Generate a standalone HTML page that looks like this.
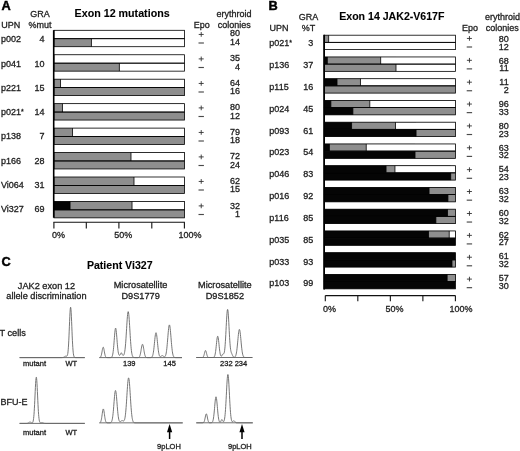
<!DOCTYPE html>
<html><head><meta charset="utf-8"><style>
html,body{margin:0;padding:0;background:#fff;}
svg{display:block;will-change:transform;}
text{font-family:"Liberation Sans", sans-serif;}
</style></head><body>
<svg width="520" height="451" viewBox="0 0 520 451">
<rect width="520" height="451" fill="#fff"/>
<text transform="translate(1.40,10.35) scale(1.0,1.02)" font-size="12.8" font-weight="bold" fill="#000" stroke-width="0.45" stroke="#000">A</text>
<text transform="translate(30.20,16.70) scale(1.0,1.02)" font-size="9" fill="#1e1e1e" stroke="#1e1e1e" stroke-width="0.3">GRA</text>
<text transform="translate(1.20,27.70) scale(1.0,1.02)" font-size="9" fill="#1e1e1e" stroke="#1e1e1e" stroke-width="0.3">UPN</text>
<text transform="translate(28.60,27.70) scale(1.0,1.02)" font-size="9" fill="#1e1e1e" stroke="#1e1e1e" stroke-width="0.3">%mut</text>
<text transform="translate(74.60,16.60) scale(1.0,1.02)" font-size="10.7" font-weight="bold" fill="#000" stroke="#000" stroke-width="0.1">Exon 12 mutations</text>
<text transform="translate(193.70,27.70) scale(1.0,1.02)" font-size="9" fill="#1e1e1e" stroke="#1e1e1e" stroke-width="0.3">Epo</text>
<text transform="translate(234.00,17.00) scale(1.0,1.02)" font-size="9" text-anchor="middle" fill="#1e1e1e" stroke="#1e1e1e" stroke-width="0.3">erythroid</text>
<text transform="translate(234.20,27.70) scale(1.0,1.02)" font-size="9" text-anchor="middle" fill="#1e1e1e" stroke="#1e1e1e" stroke-width="0.3">colonies</text>
<rect x="54.00" y="30.30" width="130.50" height="16.40" fill="#fff"/>
<rect x="54.00" y="30.30" width="37.45" height="16.40" fill="#8e8e8e"/>
<rect x="54.00" y="30.30" width="130.50" height="8.40" fill="#fff"/>
<rect x="54.00" y="30.30" width="130.50" height="8.40" fill="none" stroke="#000" stroke-width="0.8"/>
<rect x="54.00" y="38.70" width="130.50" height="8.00" fill="none" stroke="#000" stroke-width="0.8"/>
<line x1="91.45" y1="38.70" x2="91.45" y2="46.70" stroke="#000" stroke-width="0.8"/>
<text transform="translate(0.90,42.30) scale(1.0,1.02)" font-size="9" fill="#1e1e1e" stroke="#1e1e1e" stroke-width="0.3">p002</text>
<text transform="translate(44.40,42.30) scale(1.0,1.02)" font-size="9" text-anchor="end" fill="#1e1e1e" stroke="#1e1e1e" stroke-width="0.3">4</text>
<rect x="198.70" y="33.95" width="5.00" height="0.90" fill="#333"/>
<rect x="200.75" y="32.05" width="0.90" height="4.70" fill="#333"/>
<rect x="198.50" y="42.42" width="5.40" height="1.15" fill="#4a4a4a"/>
<text transform="translate(240.00,36.35) scale(1.0,1.02)" font-size="9" text-anchor="end" fill="#1e1e1e" stroke="#1e1e1e" stroke-width="0.3">80</text>
<text transform="translate(240.00,45.20) scale(1.0,1.02)" font-size="9" text-anchor="end" fill="#1e1e1e" stroke="#1e1e1e" stroke-width="0.3">14</text>
<rect x="54.00" y="54.75" width="130.50" height="16.40" fill="#fff"/>
<rect x="54.00" y="54.75" width="65.38" height="16.40" fill="#8e8e8e"/>
<rect x="54.00" y="54.75" width="130.50" height="8.40" fill="#fff"/>
<rect x="54.00" y="54.75" width="130.50" height="8.40" fill="none" stroke="#000" stroke-width="0.8"/>
<rect x="54.00" y="63.15" width="130.50" height="8.00" fill="none" stroke="#000" stroke-width="0.8"/>
<line x1="119.38" y1="63.15" x2="119.38" y2="71.15" stroke="#000" stroke-width="0.8"/>
<text transform="translate(0.90,66.56) scale(1.0,1.02)" font-size="9" fill="#1e1e1e" stroke="#1e1e1e" stroke-width="0.3">p041</text>
<text transform="translate(44.40,66.56) scale(1.0,1.02)" font-size="9" text-anchor="end" fill="#1e1e1e" stroke="#1e1e1e" stroke-width="0.3">10</text>
<rect x="198.70" y="58.45" width="5.00" height="0.90" fill="#333"/>
<rect x="200.75" y="56.55" width="0.90" height="4.70" fill="#333"/>
<rect x="198.50" y="66.92" width="5.40" height="1.15" fill="#4a4a4a"/>
<text transform="translate(240.00,60.96) scale(1.0,1.02)" font-size="9" text-anchor="end" fill="#1e1e1e" stroke="#1e1e1e" stroke-width="0.3">35</text>
<text transform="translate(240.00,69.72) scale(1.0,1.02)" font-size="9" text-anchor="end" fill="#1e1e1e" stroke="#1e1e1e" stroke-width="0.3">4</text>
<rect x="54.00" y="79.20" width="130.50" height="16.40" fill="#fff"/>
<rect x="54.00" y="79.20" width="130.50" height="16.40" fill="#8e8e8e"/>
<rect x="54.00" y="79.20" width="130.50" height="8.40" fill="#fff"/>
<rect x="54.00" y="79.20" width="6.53" height="8.40" fill="#8e8e8e"/>
<rect x="54.00" y="79.20" width="130.50" height="8.40" fill="none" stroke="#000" stroke-width="0.8"/>
<line x1="60.52" y1="79.20" x2="60.52" y2="87.60" stroke="#000" stroke-width="0.8"/>
<rect x="54.00" y="87.60" width="130.50" height="8.00" fill="none" stroke="#000" stroke-width="0.8"/>
<text transform="translate(0.90,90.82) scale(1.0,1.02)" font-size="9" fill="#1e1e1e" stroke="#1e1e1e" stroke-width="0.3">p221</text>
<text transform="translate(44.40,90.82) scale(1.0,1.02)" font-size="9" text-anchor="end" fill="#1e1e1e" stroke="#1e1e1e" stroke-width="0.3">15</text>
<rect x="198.70" y="82.95" width="5.00" height="0.90" fill="#333"/>
<rect x="200.75" y="81.05" width="0.90" height="4.70" fill="#333"/>
<rect x="198.50" y="91.42" width="5.40" height="1.15" fill="#4a4a4a"/>
<text transform="translate(240.00,85.57) scale(1.0,1.02)" font-size="9" text-anchor="end" fill="#1e1e1e" stroke="#1e1e1e" stroke-width="0.3">64</text>
<text transform="translate(240.00,94.24) scale(1.0,1.02)" font-size="9" text-anchor="end" fill="#1e1e1e" stroke="#1e1e1e" stroke-width="0.3">16</text>
<rect x="54.00" y="103.65" width="130.50" height="16.40" fill="#fff"/>
<rect x="54.00" y="103.65" width="130.50" height="16.40" fill="#8e8e8e"/>
<rect x="54.00" y="103.65" width="130.50" height="8.40" fill="#fff"/>
<rect x="54.00" y="103.65" width="8.48" height="8.40" fill="#8e8e8e"/>
<rect x="54.00" y="103.65" width="130.50" height="8.40" fill="none" stroke="#000" stroke-width="0.8"/>
<line x1="62.48" y1="103.65" x2="62.48" y2="112.05" stroke="#000" stroke-width="0.8"/>
<rect x="54.00" y="112.05" width="130.50" height="8.00" fill="none" stroke="#000" stroke-width="0.8"/>
<text transform="translate(0.90,115.08) scale(1.0,1.02)" font-size="9" fill="#1e1e1e" stroke="#1e1e1e" stroke-width="0.3">p021<tspan font-size="7" dy="-1.4">*</tspan></text>
<text transform="translate(44.40,115.08) scale(1.0,1.02)" font-size="9" text-anchor="end" fill="#1e1e1e" stroke="#1e1e1e" stroke-width="0.3">14</text>
<rect x="198.70" y="107.45" width="5.00" height="0.90" fill="#333"/>
<rect x="200.75" y="105.55" width="0.90" height="4.70" fill="#333"/>
<rect x="198.50" y="115.92" width="5.40" height="1.15" fill="#4a4a4a"/>
<text transform="translate(240.00,110.18) scale(1.0,1.02)" font-size="9" text-anchor="end" fill="#1e1e1e" stroke="#1e1e1e" stroke-width="0.3">80</text>
<text transform="translate(240.00,118.76) scale(1.0,1.02)" font-size="9" text-anchor="end" fill="#1e1e1e" stroke="#1e1e1e" stroke-width="0.3">12</text>
<rect x="54.00" y="128.10" width="130.50" height="16.40" fill="#fff"/>
<rect x="54.00" y="128.10" width="130.50" height="16.40" fill="#8e8e8e"/>
<rect x="54.00" y="128.10" width="130.50" height="8.40" fill="#fff"/>
<rect x="54.00" y="128.10" width="18.53" height="8.40" fill="#8e8e8e"/>
<rect x="54.00" y="128.10" width="130.50" height="8.40" fill="none" stroke="#000" stroke-width="0.8"/>
<line x1="72.53" y1="128.10" x2="72.53" y2="136.50" stroke="#000" stroke-width="0.8"/>
<rect x="54.00" y="136.50" width="130.50" height="8.00" fill="none" stroke="#000" stroke-width="0.8"/>
<text transform="translate(0.90,139.34) scale(1.0,1.02)" font-size="9" fill="#1e1e1e" stroke="#1e1e1e" stroke-width="0.3">p138</text>
<text transform="translate(44.40,139.34) scale(1.0,1.02)" font-size="9" text-anchor="end" fill="#1e1e1e" stroke="#1e1e1e" stroke-width="0.3">7</text>
<rect x="198.70" y="131.95" width="5.00" height="0.90" fill="#333"/>
<rect x="200.75" y="130.05" width="0.90" height="4.70" fill="#333"/>
<rect x="198.50" y="140.43" width="5.40" height="1.15" fill="#4a4a4a"/>
<text transform="translate(240.00,134.79) scale(1.0,1.02)" font-size="9" text-anchor="end" fill="#1e1e1e" stroke="#1e1e1e" stroke-width="0.3">79</text>
<text transform="translate(240.00,143.28) scale(1.0,1.02)" font-size="9" text-anchor="end" fill="#1e1e1e" stroke="#1e1e1e" stroke-width="0.3">18</text>
<rect x="54.00" y="152.55" width="130.50" height="16.40" fill="#fff"/>
<rect x="54.00" y="152.55" width="130.50" height="16.40" fill="#8e8e8e"/>
<rect x="54.00" y="152.55" width="130.50" height="8.40" fill="#fff"/>
<rect x="54.00" y="152.55" width="76.99" height="8.40" fill="#8e8e8e"/>
<rect x="54.00" y="152.55" width="130.50" height="8.40" fill="none" stroke="#000" stroke-width="0.8"/>
<line x1="131.00" y1="152.55" x2="131.00" y2="160.95" stroke="#000" stroke-width="0.8"/>
<rect x="54.00" y="160.95" width="130.50" height="8.00" fill="none" stroke="#000" stroke-width="0.8"/>
<text transform="translate(0.90,163.60) scale(1.0,1.02)" font-size="9" fill="#1e1e1e" stroke="#1e1e1e" stroke-width="0.3">p166</text>
<text transform="translate(44.40,163.60) scale(1.0,1.02)" font-size="9" text-anchor="end" fill="#1e1e1e" stroke="#1e1e1e" stroke-width="0.3">28</text>
<rect x="198.70" y="156.45" width="5.00" height="0.90" fill="#333"/>
<rect x="200.75" y="154.55" width="0.90" height="4.70" fill="#333"/>
<rect x="198.50" y="164.93" width="5.40" height="1.15" fill="#4a4a4a"/>
<text transform="translate(240.00,159.40) scale(1.0,1.02)" font-size="9" text-anchor="end" fill="#1e1e1e" stroke="#1e1e1e" stroke-width="0.3">72</text>
<text transform="translate(240.00,167.80) scale(1.0,1.02)" font-size="9" text-anchor="end" fill="#1e1e1e" stroke="#1e1e1e" stroke-width="0.3">24</text>
<rect x="54.00" y="177.00" width="130.50" height="16.40" fill="#fff"/>
<rect x="54.00" y="177.00" width="130.50" height="16.40" fill="#8e8e8e"/>
<rect x="54.00" y="177.00" width="130.50" height="8.40" fill="#fff"/>
<rect x="54.00" y="177.00" width="80.00" height="8.40" fill="#8e8e8e"/>
<rect x="54.00" y="177.00" width="130.50" height="8.40" fill="none" stroke="#000" stroke-width="0.8"/>
<line x1="134.00" y1="177.00" x2="134.00" y2="185.40" stroke="#000" stroke-width="0.8"/>
<rect x="54.00" y="185.40" width="130.50" height="8.00" fill="none" stroke="#000" stroke-width="0.8"/>
<text transform="translate(0.90,187.86) scale(1.0,1.02)" font-size="9" fill="#1e1e1e" stroke="#1e1e1e" stroke-width="0.3">Vi064</text>
<text transform="translate(44.40,187.86) scale(1.0,1.02)" font-size="9" text-anchor="end" fill="#1e1e1e" stroke="#1e1e1e" stroke-width="0.3">31</text>
<rect x="198.70" y="180.95" width="5.00" height="0.90" fill="#333"/>
<rect x="200.75" y="179.05" width="0.90" height="4.70" fill="#333"/>
<rect x="198.50" y="189.43" width="5.40" height="1.15" fill="#4a4a4a"/>
<text transform="translate(240.00,184.01) scale(1.0,1.02)" font-size="9" text-anchor="end" fill="#1e1e1e" stroke="#1e1e1e" stroke-width="0.3">62</text>
<text transform="translate(240.00,192.32) scale(1.0,1.02)" font-size="9" text-anchor="end" fill="#1e1e1e" stroke="#1e1e1e" stroke-width="0.3">15</text>
<rect x="54.00" y="201.45" width="130.50" height="16.40" fill="#fff"/>
<rect x="54.00" y="201.45" width="130.50" height="16.40" fill="#8e8e8e"/>
<rect x="54.00" y="201.45" width="130.50" height="8.40" fill="#fff"/>
<rect x="54.00" y="201.45" width="78.04" height="8.40" fill="#8e8e8e"/>
<rect x="54.00" y="201.45" width="16.05" height="8.40" fill="#050505"/>
<rect x="54.00" y="201.45" width="130.50" height="8.40" fill="none" stroke="#000" stroke-width="0.8"/>
<line x1="70.05" y1="201.45" x2="70.05" y2="209.85" stroke="#000" stroke-width="0.8"/>
<line x1="132.04" y1="201.45" x2="132.04" y2="209.85" stroke="#000" stroke-width="0.8"/>
<rect x="54.00" y="209.85" width="130.50" height="8.00" fill="none" stroke="#000" stroke-width="0.8"/>
<text transform="translate(0.90,212.12) scale(1.0,1.02)" font-size="9" fill="#1e1e1e" stroke="#1e1e1e" stroke-width="0.3">Vi327</text>
<text transform="translate(44.40,212.12) scale(1.0,1.02)" font-size="9" text-anchor="end" fill="#1e1e1e" stroke="#1e1e1e" stroke-width="0.3">69</text>
<rect x="198.70" y="205.45" width="5.00" height="0.90" fill="#333"/>
<rect x="200.75" y="203.55" width="0.90" height="4.70" fill="#333"/>
<rect x="198.50" y="213.93" width="5.40" height="1.15" fill="#4a4a4a"/>
<text transform="translate(240.00,208.62) scale(1.0,1.02)" font-size="9" text-anchor="end" fill="#1e1e1e" stroke="#1e1e1e" stroke-width="0.3">32</text>
<text transform="translate(240.00,216.84) scale(1.0,1.02)" font-size="9" text-anchor="end" fill="#1e1e1e" stroke="#1e1e1e" stroke-width="0.3">1</text>
<line x1="53.70" y1="30.20" x2="53.70" y2="217.70" stroke="#000" stroke-width="1.6"/>
<line x1="53.40" y1="222.20" x2="184.90" y2="222.20" stroke="#111" stroke-width="1.1"/>
<line x1="53.90" y1="222.20" x2="53.90" y2="228.60" stroke="#111" stroke-width="1.1"/>
<line x1="86.30" y1="222.20" x2="86.30" y2="228.60" stroke="#111" stroke-width="1.1"/>
<line x1="118.90" y1="222.20" x2="118.90" y2="228.60" stroke="#111" stroke-width="1.1"/>
<line x1="151.80" y1="222.20" x2="151.80" y2="228.60" stroke="#111" stroke-width="1.1"/>
<line x1="184.40" y1="222.20" x2="184.40" y2="228.60" stroke="#111" stroke-width="1.1"/>
<text transform="translate(51.90,238.20) scale(1.0,1.02)" font-size="9" fill="#1e1e1e" stroke="#1e1e1e" stroke-width="0.3">0%</text>
<text transform="translate(114.20,238.20) scale(1.0,1.02)" font-size="9" fill="#1e1e1e" stroke="#1e1e1e" stroke-width="0.3">50%</text>
<text transform="translate(178.50,238.20) scale(1.0,1.02)" font-size="9" fill="#1e1e1e" stroke="#1e1e1e" stroke-width="0.3">100%</text>
<text transform="translate(268.40,10.00) scale(1.0,1.02)" font-size="12.8" font-weight="bold" fill="#000" stroke-width="0.45" stroke="#000">B</text>
<text transform="translate(298.80,20.30) scale(1.0,1.02)" font-size="9" fill="#1e1e1e" stroke="#1e1e1e" stroke-width="0.3">GRA</text>
<text transform="translate(269.50,30.80) scale(1.0,1.02)" font-size="9" fill="#1e1e1e" stroke="#1e1e1e" stroke-width="0.3">UPN</text>
<text transform="translate(301.80,30.80) scale(1.0,1.02)" font-size="9" fill="#1e1e1e" stroke="#1e1e1e" stroke-width="0.3">%T</text>
<text transform="translate(339.20,19.60) scale(1.0,1.02)" font-size="10.6" font-weight="bold" fill="#000" stroke="#000" stroke-width="0.1">Exon 14 JAK2-V617F</text>
<text transform="translate(462.10,30.60) scale(1.0,1.02)" font-size="9" fill="#1e1e1e" stroke="#1e1e1e" stroke-width="0.3">Epo</text>
<text transform="translate(502.50,20.20) scale(1.0,1.02)" font-size="9" text-anchor="middle" fill="#1e1e1e" stroke="#1e1e1e" stroke-width="0.3">erythroid</text>
<text transform="translate(502.30,30.60) scale(1.0,1.02)" font-size="9" text-anchor="middle" fill="#1e1e1e" stroke="#1e1e1e" stroke-width="0.3">colonies</text>
<rect x="324.30" y="35.20" width="131.10" height="14.40" fill="#fff"/>
<rect x="324.30" y="35.20" width="131.10" height="7.15" fill="#fff"/>
<rect x="324.30" y="35.20" width="4.33" height="7.15" fill="#8e8e8e"/>
<rect x="324.30" y="35.20" width="131.10" height="7.15" fill="none" stroke="#000" stroke-width="0.8"/>
<line x1="328.63" y1="35.20" x2="328.63" y2="42.35" stroke="#000" stroke-width="0.8"/>
<rect x="324.30" y="42.35" width="131.10" height="7.25" fill="none" stroke="#000" stroke-width="0.8"/>
<text transform="translate(269.30,46.30) scale(1.0,1.02)" font-size="9" fill="#1e1e1e" stroke="#1e1e1e" stroke-width="0.3">p021<tspan font-size="7" dy="-1.4">*</tspan></text>
<text transform="translate(313.20,46.30) scale(1.0,1.02)" font-size="9" text-anchor="end" fill="#1e1e1e" stroke="#1e1e1e" stroke-width="0.3">3</text>
<rect x="466.90" y="37.95" width="5.00" height="0.90" fill="#333"/>
<rect x="468.95" y="36.05" width="0.90" height="4.70" fill="#333"/>
<rect x="466.70" y="46.42" width="5.40" height="1.15" fill="#4a4a4a"/>
<text transform="translate(508.70,41.90) scale(1.0,1.02)" font-size="9" text-anchor="end" fill="#1e1e1e" stroke="#1e1e1e" stroke-width="0.3">80</text>
<text transform="translate(508.70,49.70) scale(1.0,1.02)" font-size="9" text-anchor="end" fill="#1e1e1e" stroke="#1e1e1e" stroke-width="0.3">12</text>
<rect x="324.30" y="56.95" width="131.10" height="14.40" fill="#fff"/>
<rect x="324.30" y="56.95" width="71.71" height="14.40" fill="#8e8e8e"/>
<rect x="324.30" y="56.95" width="131.10" height="7.15" fill="#fff"/>
<rect x="324.30" y="56.95" width="56.37" height="7.15" fill="#8e8e8e"/>
<rect x="324.30" y="56.95" width="3.02" height="7.15" fill="#050505"/>
<rect x="324.30" y="56.95" width="131.10" height="7.15" fill="none" stroke="#000" stroke-width="0.8"/>
<line x1="327.32" y1="56.95" x2="327.32" y2="64.10" stroke="#000" stroke-width="0.8"/>
<line x1="380.67" y1="56.95" x2="380.67" y2="64.10" stroke="#000" stroke-width="0.8"/>
<rect x="324.30" y="64.10" width="131.10" height="7.25" fill="none" stroke="#000" stroke-width="0.8"/>
<line x1="396.01" y1="64.10" x2="396.01" y2="71.35" stroke="#000" stroke-width="0.8"/>
<text transform="translate(269.30,68.12) scale(1.0,1.02)" font-size="9" fill="#1e1e1e" stroke="#1e1e1e" stroke-width="0.3">p136</text>
<text transform="translate(313.20,68.12) scale(1.0,1.02)" font-size="9" text-anchor="end" fill="#1e1e1e" stroke="#1e1e1e" stroke-width="0.3">37</text>
<rect x="466.90" y="59.83" width="5.00" height="0.90" fill="#333"/>
<rect x="468.95" y="57.93" width="0.90" height="4.70" fill="#333"/>
<rect x="466.70" y="68.30" width="5.40" height="1.15" fill="#4a4a4a"/>
<text transform="translate(508.70,63.65) scale(1.0,1.02)" font-size="9" text-anchor="end" fill="#1e1e1e" stroke="#1e1e1e" stroke-width="0.3">68</text>
<text transform="translate(508.70,71.45) scale(1.0,1.02)" font-size="9" text-anchor="end" fill="#1e1e1e" stroke="#1e1e1e" stroke-width="0.3">11</text>
<rect x="324.30" y="78.70" width="131.10" height="14.40" fill="#fff"/>
<rect x="324.30" y="78.70" width="131.10" height="14.40" fill="#8e8e8e"/>
<rect x="324.30" y="78.70" width="131.10" height="7.15" fill="#fff"/>
<rect x="324.30" y="78.70" width="36.18" height="7.15" fill="#8e8e8e"/>
<rect x="324.30" y="78.70" width="12.72" height="7.15" fill="#050505"/>
<rect x="324.30" y="78.70" width="131.10" height="7.15" fill="none" stroke="#000" stroke-width="0.8"/>
<line x1="337.02" y1="78.70" x2="337.02" y2="85.85" stroke="#000" stroke-width="0.8"/>
<line x1="360.48" y1="78.70" x2="360.48" y2="85.85" stroke="#000" stroke-width="0.8"/>
<rect x="324.30" y="85.85" width="131.10" height="7.25" fill="none" stroke="#000" stroke-width="0.8"/>
<text transform="translate(269.30,89.94) scale(1.0,1.02)" font-size="9" fill="#1e1e1e" stroke="#1e1e1e" stroke-width="0.3">p115</text>
<text transform="translate(313.20,89.94) scale(1.0,1.02)" font-size="9" text-anchor="end" fill="#1e1e1e" stroke="#1e1e1e" stroke-width="0.3">16</text>
<rect x="466.90" y="81.71" width="5.00" height="0.90" fill="#333"/>
<rect x="468.95" y="79.81" width="0.90" height="4.70" fill="#333"/>
<rect x="466.70" y="90.18" width="5.40" height="1.15" fill="#4a4a4a"/>
<text transform="translate(508.70,85.40) scale(1.0,1.02)" font-size="9" text-anchor="end" fill="#1e1e1e" stroke="#1e1e1e" stroke-width="0.3">11</text>
<text transform="translate(508.70,93.20) scale(1.0,1.02)" font-size="9" text-anchor="end" fill="#1e1e1e" stroke="#1e1e1e" stroke-width="0.3">2</text>
<rect x="324.30" y="100.45" width="131.10" height="14.40" fill="#fff"/>
<rect x="324.30" y="100.45" width="131.10" height="14.40" fill="#8e8e8e"/>
<rect x="324.30" y="100.45" width="28.58" height="14.40" fill="#050505"/>
<rect x="324.30" y="100.45" width="131.10" height="7.15" fill="#fff"/>
<rect x="324.30" y="100.45" width="45.49" height="7.15" fill="#8e8e8e"/>
<rect x="324.30" y="100.45" width="6.55" height="7.15" fill="#050505"/>
<rect x="324.30" y="100.45" width="131.10" height="7.15" fill="none" stroke="#000" stroke-width="0.8"/>
<line x1="330.86" y1="100.45" x2="330.86" y2="107.60" stroke="#000" stroke-width="0.8"/>
<line x1="369.79" y1="100.45" x2="369.79" y2="107.60" stroke="#000" stroke-width="0.8"/>
<rect x="324.30" y="107.60" width="131.10" height="7.25" fill="none" stroke="#000" stroke-width="0.8"/>
<line x1="352.88" y1="107.60" x2="352.88" y2="114.85" stroke="#000" stroke-width="0.8"/>
<text transform="translate(269.30,111.76) scale(1.0,1.02)" font-size="9" fill="#1e1e1e" stroke="#1e1e1e" stroke-width="0.3">p024</text>
<text transform="translate(313.20,111.76) scale(1.0,1.02)" font-size="9" text-anchor="end" fill="#1e1e1e" stroke="#1e1e1e" stroke-width="0.3">45</text>
<rect x="466.90" y="103.59" width="5.00" height="0.90" fill="#333"/>
<rect x="468.95" y="101.69" width="0.90" height="4.70" fill="#333"/>
<rect x="466.70" y="112.06" width="5.40" height="1.15" fill="#4a4a4a"/>
<text transform="translate(508.70,107.15) scale(1.0,1.02)" font-size="9" text-anchor="end" fill="#1e1e1e" stroke="#1e1e1e" stroke-width="0.3">96</text>
<text transform="translate(508.70,114.95) scale(1.0,1.02)" font-size="9" text-anchor="end" fill="#1e1e1e" stroke="#1e1e1e" stroke-width="0.3">33</text>
<rect x="324.30" y="122.20" width="131.10" height="14.40" fill="#fff"/>
<rect x="324.30" y="122.20" width="131.10" height="14.40" fill="#8e8e8e"/>
<rect x="324.30" y="122.20" width="91.77" height="14.40" fill="#050505"/>
<rect x="324.30" y="122.20" width="131.10" height="7.15" fill="#fff"/>
<rect x="324.30" y="122.20" width="71.19" height="7.15" fill="#8e8e8e"/>
<rect x="324.30" y="122.20" width="27.27" height="7.15" fill="#050505"/>
<rect x="324.30" y="122.20" width="131.10" height="7.15" fill="none" stroke="#000" stroke-width="0.8"/>
<line x1="351.57" y1="122.20" x2="351.57" y2="129.35" stroke="#000" stroke-width="0.8"/>
<line x1="395.49" y1="122.20" x2="395.49" y2="129.35" stroke="#000" stroke-width="0.8"/>
<rect x="324.30" y="129.35" width="131.10" height="7.25" fill="none" stroke="#000" stroke-width="0.8"/>
<line x1="416.07" y1="129.35" x2="416.07" y2="136.60" stroke="#000" stroke-width="0.8"/>
<text transform="translate(269.30,133.58) scale(1.0,1.02)" font-size="9" fill="#1e1e1e" stroke="#1e1e1e" stroke-width="0.3">p093</text>
<text transform="translate(313.20,133.58) scale(1.0,1.02)" font-size="9" text-anchor="end" fill="#1e1e1e" stroke="#1e1e1e" stroke-width="0.3">61</text>
<rect x="466.90" y="125.47" width="5.00" height="0.90" fill="#333"/>
<rect x="468.95" y="123.57" width="0.90" height="4.70" fill="#333"/>
<rect x="466.70" y="133.94" width="5.40" height="1.15" fill="#4a4a4a"/>
<text transform="translate(508.70,128.90) scale(1.0,1.02)" font-size="9" text-anchor="end" fill="#1e1e1e" stroke="#1e1e1e" stroke-width="0.3">80</text>
<text transform="translate(508.70,136.70) scale(1.0,1.02)" font-size="9" text-anchor="end" fill="#1e1e1e" stroke="#1e1e1e" stroke-width="0.3">23</text>
<rect x="324.30" y="143.95" width="131.10" height="14.40" fill="#fff"/>
<rect x="324.30" y="143.95" width="131.10" height="14.40" fill="#8e8e8e"/>
<rect x="324.30" y="143.95" width="90.72" height="14.40" fill="#050505"/>
<rect x="324.30" y="143.95" width="131.10" height="7.15" fill="#fff"/>
<rect x="324.30" y="143.95" width="41.95" height="7.15" fill="#8e8e8e"/>
<rect x="324.30" y="143.95" width="5.11" height="7.15" fill="#050505"/>
<rect x="324.30" y="143.95" width="131.10" height="7.15" fill="none" stroke="#000" stroke-width="0.8"/>
<line x1="329.41" y1="143.95" x2="329.41" y2="151.10" stroke="#000" stroke-width="0.8"/>
<line x1="366.25" y1="143.95" x2="366.25" y2="151.10" stroke="#000" stroke-width="0.8"/>
<rect x="324.30" y="151.10" width="131.10" height="7.25" fill="none" stroke="#000" stroke-width="0.8"/>
<line x1="415.02" y1="151.10" x2="415.02" y2="158.35" stroke="#000" stroke-width="0.8"/>
<text transform="translate(269.30,155.40) scale(1.0,1.02)" font-size="9" fill="#1e1e1e" stroke="#1e1e1e" stroke-width="0.3">p023</text>
<text transform="translate(313.20,155.40) scale(1.0,1.02)" font-size="9" text-anchor="end" fill="#1e1e1e" stroke="#1e1e1e" stroke-width="0.3">54</text>
<rect x="466.90" y="147.35" width="5.00" height="0.90" fill="#333"/>
<rect x="468.95" y="145.45" width="0.90" height="4.70" fill="#333"/>
<rect x="466.70" y="155.82" width="5.40" height="1.15" fill="#4a4a4a"/>
<text transform="translate(508.70,150.65) scale(1.0,1.02)" font-size="9" text-anchor="end" fill="#1e1e1e" stroke="#1e1e1e" stroke-width="0.3">63</text>
<text transform="translate(508.70,158.45) scale(1.0,1.02)" font-size="9" text-anchor="end" fill="#1e1e1e" stroke="#1e1e1e" stroke-width="0.3">32</text>
<rect x="324.30" y="165.70" width="131.10" height="14.40" fill="#fff"/>
<rect x="324.30" y="165.70" width="131.10" height="14.40" fill="#8e8e8e"/>
<rect x="324.30" y="165.70" width="126.38" height="14.40" fill="#050505"/>
<rect x="324.30" y="165.70" width="131.10" height="7.15" fill="#fff"/>
<rect x="324.30" y="165.70" width="70.66" height="7.15" fill="#8e8e8e"/>
<rect x="324.30" y="165.70" width="61.75" height="7.15" fill="#050505"/>
<rect x="324.30" y="165.70" width="131.10" height="7.15" fill="none" stroke="#000" stroke-width="0.8"/>
<line x1="386.05" y1="165.70" x2="386.05" y2="172.85" stroke="#000" stroke-width="0.8"/>
<line x1="394.96" y1="165.70" x2="394.96" y2="172.85" stroke="#000" stroke-width="0.8"/>
<rect x="324.30" y="172.85" width="131.10" height="7.25" fill="none" stroke="#000" stroke-width="0.8"/>
<line x1="450.68" y1="172.85" x2="450.68" y2="180.10" stroke="#000" stroke-width="0.8"/>
<text transform="translate(269.30,177.22) scale(1.0,1.02)" font-size="9" fill="#1e1e1e" stroke="#1e1e1e" stroke-width="0.3">p046</text>
<text transform="translate(313.20,177.22) scale(1.0,1.02)" font-size="9" text-anchor="end" fill="#1e1e1e" stroke="#1e1e1e" stroke-width="0.3">83</text>
<rect x="466.90" y="169.23" width="5.00" height="0.90" fill="#333"/>
<rect x="468.95" y="167.33" width="0.90" height="4.70" fill="#333"/>
<rect x="466.70" y="177.71" width="5.40" height="1.15" fill="#4a4a4a"/>
<text transform="translate(508.70,172.40) scale(1.0,1.02)" font-size="9" text-anchor="end" fill="#1e1e1e" stroke="#1e1e1e" stroke-width="0.3">54</text>
<text transform="translate(508.70,180.20) scale(1.0,1.02)" font-size="9" text-anchor="end" fill="#1e1e1e" stroke="#1e1e1e" stroke-width="0.3">23</text>
<rect x="324.30" y="187.45" width="131.10" height="14.40" fill="#fff"/>
<rect x="324.30" y="187.45" width="131.10" height="14.40" fill="#8e8e8e"/>
<rect x="324.30" y="187.45" width="123.63" height="14.40" fill="#050505"/>
<rect x="324.30" y="187.45" width="131.10" height="7.15" fill="#fff"/>
<rect x="324.30" y="187.45" width="131.10" height="7.15" fill="#8e8e8e"/>
<rect x="324.30" y="187.45" width="104.75" height="7.15" fill="#050505"/>
<rect x="324.30" y="187.45" width="131.10" height="7.15" fill="none" stroke="#000" stroke-width="0.8"/>
<line x1="429.05" y1="187.45" x2="429.05" y2="194.60" stroke="#000" stroke-width="0.8"/>
<rect x="324.30" y="194.60" width="131.10" height="7.25" fill="none" stroke="#000" stroke-width="0.8"/>
<line x1="447.93" y1="194.60" x2="447.93" y2="201.85" stroke="#000" stroke-width="0.8"/>
<text transform="translate(269.30,199.04) scale(1.0,1.02)" font-size="9" fill="#1e1e1e" stroke="#1e1e1e" stroke-width="0.3">p016</text>
<text transform="translate(313.20,199.04) scale(1.0,1.02)" font-size="9" text-anchor="end" fill="#1e1e1e" stroke="#1e1e1e" stroke-width="0.3">92</text>
<rect x="466.90" y="191.11" width="5.00" height="0.90" fill="#333"/>
<rect x="468.95" y="189.21" width="0.90" height="4.70" fill="#333"/>
<rect x="466.70" y="199.59" width="5.40" height="1.15" fill="#4a4a4a"/>
<text transform="translate(508.70,194.15) scale(1.0,1.02)" font-size="9" text-anchor="end" fill="#1e1e1e" stroke="#1e1e1e" stroke-width="0.3">63</text>
<text transform="translate(508.70,201.95) scale(1.0,1.02)" font-size="9" text-anchor="end" fill="#1e1e1e" stroke="#1e1e1e" stroke-width="0.3">32</text>
<rect x="324.30" y="209.20" width="131.10" height="14.40" fill="#fff"/>
<rect x="324.30" y="209.20" width="131.10" height="14.40" fill="#8e8e8e"/>
<rect x="324.30" y="209.20" width="111.57" height="14.40" fill="#050505"/>
<rect x="324.30" y="209.20" width="131.10" height="7.15" fill="#fff"/>
<rect x="324.30" y="209.20" width="131.10" height="7.15" fill="#8e8e8e"/>
<rect x="324.30" y="209.20" width="123.23" height="7.15" fill="#050505"/>
<rect x="324.30" y="209.20" width="131.10" height="7.15" fill="none" stroke="#000" stroke-width="0.8"/>
<line x1="447.53" y1="209.20" x2="447.53" y2="216.35" stroke="#000" stroke-width="0.8"/>
<rect x="324.30" y="216.35" width="131.10" height="7.25" fill="none" stroke="#000" stroke-width="0.8"/>
<line x1="435.87" y1="216.35" x2="435.87" y2="223.60" stroke="#000" stroke-width="0.8"/>
<text transform="translate(269.30,220.86) scale(1.0,1.02)" font-size="9" fill="#1e1e1e" stroke="#1e1e1e" stroke-width="0.3">p116</text>
<text transform="translate(313.20,220.86) scale(1.0,1.02)" font-size="9" text-anchor="end" fill="#1e1e1e" stroke="#1e1e1e" stroke-width="0.3">85</text>
<rect x="466.90" y="212.99" width="5.00" height="0.90" fill="#333"/>
<rect x="468.95" y="211.09" width="0.90" height="4.70" fill="#333"/>
<rect x="466.70" y="221.47" width="5.40" height="1.15" fill="#4a4a4a"/>
<text transform="translate(508.70,215.90) scale(1.0,1.02)" font-size="9" text-anchor="end" fill="#1e1e1e" stroke="#1e1e1e" stroke-width="0.3">60</text>
<text transform="translate(508.70,223.70) scale(1.0,1.02)" font-size="9" text-anchor="end" fill="#1e1e1e" stroke="#1e1e1e" stroke-width="0.3">32</text>
<rect x="324.30" y="230.95" width="131.10" height="14.40" fill="#fff"/>
<rect x="324.30" y="230.95" width="131.10" height="14.40" fill="#050505"/>
<rect x="324.30" y="230.95" width="131.10" height="7.15" fill="#fff"/>
<rect x="324.30" y="230.95" width="124.94" height="7.15" fill="#8e8e8e"/>
<rect x="324.30" y="230.95" width="104.22" height="7.15" fill="#050505"/>
<rect x="324.30" y="230.95" width="131.10" height="7.15" fill="none" stroke="#000" stroke-width="0.8"/>
<line x1="428.52" y1="230.95" x2="428.52" y2="238.10" stroke="#000" stroke-width="0.8"/>
<line x1="449.24" y1="230.95" x2="449.24" y2="238.10" stroke="#000" stroke-width="0.8"/>
<rect x="324.30" y="238.10" width="131.10" height="7.25" fill="none" stroke="#000" stroke-width="0.8"/>
<text transform="translate(269.30,242.68) scale(1.0,1.02)" font-size="9" fill="#1e1e1e" stroke="#1e1e1e" stroke-width="0.3">p035</text>
<text transform="translate(313.20,242.68) scale(1.0,1.02)" font-size="9" text-anchor="end" fill="#1e1e1e" stroke="#1e1e1e" stroke-width="0.3">85</text>
<rect x="466.90" y="234.87" width="5.00" height="0.90" fill="#333"/>
<rect x="468.95" y="232.97" width="0.90" height="4.70" fill="#333"/>
<rect x="466.70" y="243.34" width="5.40" height="1.15" fill="#4a4a4a"/>
<text transform="translate(508.70,237.65) scale(1.0,1.02)" font-size="9" text-anchor="end" fill="#1e1e1e" stroke="#1e1e1e" stroke-width="0.3">62</text>
<text transform="translate(508.70,245.45) scale(1.0,1.02)" font-size="9" text-anchor="end" fill="#1e1e1e" stroke="#1e1e1e" stroke-width="0.3">27</text>
<rect x="324.30" y="252.70" width="131.10" height="14.40" fill="#fff"/>
<rect x="324.30" y="252.70" width="131.10" height="14.40" fill="#8e8e8e"/>
<rect x="324.30" y="252.70" width="127.69" height="14.40" fill="#050505"/>
<rect x="324.30" y="252.70" width="131.10" height="7.15" fill="#fff"/>
<rect x="324.30" y="252.70" width="131.10" height="7.15" fill="#050505"/>
<rect x="324.30" y="252.70" width="131.10" height="7.15" fill="none" stroke="#000" stroke-width="0.8"/>
<rect x="324.30" y="259.85" width="131.10" height="7.25" fill="none" stroke="#000" stroke-width="0.8"/>
<line x1="451.99" y1="259.85" x2="451.99" y2="267.10" stroke="#000" stroke-width="0.8"/>
<text transform="translate(269.30,264.50) scale(1.0,1.02)" font-size="9" fill="#1e1e1e" stroke="#1e1e1e" stroke-width="0.3">p033</text>
<text transform="translate(313.20,264.50) scale(1.0,1.02)" font-size="9" text-anchor="end" fill="#1e1e1e" stroke="#1e1e1e" stroke-width="0.3">93</text>
<rect x="466.90" y="256.75" width="5.00" height="0.90" fill="#333"/>
<rect x="468.95" y="254.85" width="0.90" height="4.70" fill="#333"/>
<rect x="466.70" y="265.22" width="5.40" height="1.15" fill="#4a4a4a"/>
<text transform="translate(508.70,259.40) scale(1.0,1.02)" font-size="9" text-anchor="end" fill="#1e1e1e" stroke="#1e1e1e" stroke-width="0.3">61</text>
<text transform="translate(508.70,267.20) scale(1.0,1.02)" font-size="9" text-anchor="end" fill="#1e1e1e" stroke="#1e1e1e" stroke-width="0.3">32</text>
<rect x="324.30" y="274.45" width="131.10" height="14.40" fill="#fff"/>
<rect x="324.30" y="274.45" width="131.10" height="14.40" fill="#050505"/>
<rect x="324.30" y="274.45" width="131.10" height="7.15" fill="#fff"/>
<rect x="324.30" y="274.45" width="131.10" height="7.15" fill="#8e8e8e"/>
<rect x="324.30" y="274.45" width="122.84" height="7.15" fill="#050505"/>
<rect x="324.30" y="274.45" width="131.10" height="7.15" fill="none" stroke="#000" stroke-width="0.8"/>
<line x1="447.14" y1="274.45" x2="447.14" y2="281.60" stroke="#000" stroke-width="0.8"/>
<rect x="324.30" y="281.60" width="131.10" height="7.25" fill="none" stroke="#000" stroke-width="0.8"/>
<text transform="translate(269.30,286.32) scale(1.0,1.02)" font-size="9" fill="#1e1e1e" stroke="#1e1e1e" stroke-width="0.3">p103</text>
<text transform="translate(313.20,286.32) scale(1.0,1.02)" font-size="9" text-anchor="end" fill="#1e1e1e" stroke="#1e1e1e" stroke-width="0.3">99</text>
<rect x="466.90" y="278.63" width="5.00" height="0.90" fill="#333"/>
<rect x="468.95" y="276.73" width="0.90" height="4.70" fill="#333"/>
<rect x="466.70" y="287.10" width="5.40" height="1.15" fill="#4a4a4a"/>
<text transform="translate(508.70,281.15) scale(1.0,1.02)" font-size="9" text-anchor="end" fill="#1e1e1e" stroke="#1e1e1e" stroke-width="0.3">57</text>
<text transform="translate(508.70,288.95) scale(1.0,1.02)" font-size="9" text-anchor="end" fill="#1e1e1e" stroke="#1e1e1e" stroke-width="0.3">30</text>
<line x1="324.10" y1="34.70" x2="324.10" y2="289.60" stroke="#000" stroke-width="1.8"/>
<line x1="325.30" y1="295.60" x2="455.40" y2="295.60" stroke="#111" stroke-width="1.1"/>
<line x1="325.30" y1="295.60" x2="325.30" y2="301.30" stroke="#111" stroke-width="1.1"/>
<line x1="357.82" y1="295.60" x2="357.82" y2="301.30" stroke="#111" stroke-width="1.1"/>
<line x1="390.35" y1="295.60" x2="390.35" y2="301.30" stroke="#111" stroke-width="1.1"/>
<line x1="422.88" y1="295.60" x2="422.88" y2="301.30" stroke="#111" stroke-width="1.1"/>
<line x1="455.40" y1="295.60" x2="455.40" y2="301.30" stroke="#111" stroke-width="1.1"/>
<text transform="translate(322.90,311.50) scale(1.0,1.02)" font-size="9" fill="#1e1e1e" stroke="#1e1e1e" stroke-width="0.3">0%</text>
<text transform="translate(385.50,311.50) scale(1.0,1.02)" font-size="9" fill="#1e1e1e" stroke="#1e1e1e" stroke-width="0.3">50%</text>
<text transform="translate(449.50,311.50) scale(1.0,1.02)" font-size="9" fill="#1e1e1e" stroke="#1e1e1e" stroke-width="0.3">100%</text>
<text transform="translate(1.50,265.60) scale(1.0,1.02)" font-size="12.8" font-weight="bold" fill="#000" stroke-width="0.45" stroke="#000">C</text>
<text transform="translate(86.90,269.00) scale(1.0,1.02)" font-size="10.6" font-weight="bold" fill="#000" stroke="#000" stroke-width="0.1">Patient Vi327</text>
<text transform="translate(46.40,288.60) scale(1.0,1.02)" font-size="9.2" text-anchor="middle" fill="#1e1e1e" stroke="#1e1e1e" stroke-width="0.3">JAK2 exon 12</text>
<text transform="translate(46.40,299.10) scale(1.0,1.02)" font-size="9.2" text-anchor="middle" fill="#1e1e1e" stroke="#1e1e1e" stroke-width="0.3">allele discrimination</text>
<text transform="translate(140.50,288.40) scale(1.0,1.02)" font-size="9.2" text-anchor="middle" fill="#1e1e1e" stroke="#1e1e1e" stroke-width="0.3">Microsatellite</text>
<text transform="translate(140.60,299.30) scale(1.0,1.02)" font-size="9.2" text-anchor="middle" fill="#1e1e1e" stroke="#1e1e1e" stroke-width="0.3">D9S1779</text>
<text transform="translate(224.85,288.40) scale(1.0,1.02)" font-size="9.2" text-anchor="middle" fill="#1e1e1e" stroke="#1e1e1e" stroke-width="0.3">Microsatellite</text>
<text transform="translate(224.85,299.30) scale(1.0,1.02)" font-size="9.2" text-anchor="middle" fill="#1e1e1e" stroke="#1e1e1e" stroke-width="0.3">D9S1852</text>
<text transform="translate(-0.50,335.80) scale(1.0,1.02)" font-size="9.2" fill="#1e1e1e" stroke="#1e1e1e" stroke-width="0.3">T cells</text>
<text transform="translate(0.50,404.60) scale(1.0,1.02)" font-size="9" fill="#1e1e1e" stroke="#1e1e1e" stroke-width="0.3">BFU-E</text>
<text x="23.10" y="365.80" font-size="7.5" fill="#1e1e1e" stroke="#1e1e1e" stroke-width="0.3">mutant</text>
<text x="65.40" y="366.00" font-size="7.5" fill="#1e1e1e" stroke="#1e1e1e" stroke-width="0.3">WT</text>
<text x="123.00" y="366.00" font-size="7.5" fill="#1e1e1e" stroke="#1e1e1e" stroke-width="0.3">139</text>
<text x="163.30" y="366.00" font-size="7.5" fill="#1e1e1e" stroke="#1e1e1e" stroke-width="0.3">145</text>
<text x="220.10" y="365.90" font-size="7.5" fill="#1e1e1e" stroke="#1e1e1e" stroke-width="0.3">232 234</text>
<text x="23.10" y="435.00" font-size="7.5" fill="#1e1e1e" stroke="#1e1e1e" stroke-width="0.3">mutant</text>
<text x="65.40" y="435.00" font-size="7.5" fill="#1e1e1e" stroke="#1e1e1e" stroke-width="0.3">WT</text>
<text x="157.10" y="448.90" font-size="7.5" fill="#1e1e1e" stroke="#1e1e1e" stroke-width="0.3">9pLOH</text>
<text x="228.00" y="448.90" font-size="7.5" fill="#1e1e1e" stroke="#1e1e1e" stroke-width="0.3">9pLOH</text>
<line x1="19.60" y1="357.60" x2="84.80" y2="357.60" stroke="#707070" stroke-width="1.0"/>
<polyline points="19.60,357.60 19.80,357.60 20.00,357.60 20.20,357.60 20.40,357.60 20.60,357.60 20.80,357.60 21.00,357.60 21.20,357.60 21.40,357.60 21.60,357.60 21.80,357.60 22.00,357.60 22.20,357.60 22.40,357.60 22.60,357.60 22.80,357.60 23.00,357.60 23.20,357.60 23.40,357.60 23.60,357.60 23.80,357.60 24.00,357.60 24.20,357.60 24.40,357.60 24.60,357.60 24.80,357.60 25.00,357.60 25.20,357.60 25.40,357.60 25.60,357.60 25.80,357.60 26.00,357.60 26.20,357.60 26.40,357.60 26.60,357.60 26.80,357.60 27.00,357.60 27.20,357.60 27.40,357.60 27.60,357.60 27.80,357.60 28.00,357.60 28.20,357.60 28.40,357.60 28.60,357.60 28.80,357.60 29.00,357.60 29.20,357.60 29.40,357.60 29.60,357.60 29.80,357.60 30.00,357.60 30.20,357.60 30.40,357.60 30.60,357.60 30.80,357.60 31.00,357.60 31.20,357.60 31.40,357.60 31.60,357.60 31.80,357.60 32.00,357.60 32.20,357.60 32.40,357.60 32.60,357.60 32.80,357.60 33.00,357.60 33.20,357.60 33.40,357.60 33.60,357.60 33.80,357.60 34.00,357.60 34.20,357.60 34.40,357.60 34.60,357.60 34.80,357.60 35.00,357.60 35.20,357.60 35.40,357.60 35.60,357.60 35.80,357.60 36.00,357.60 36.20,357.60 36.40,357.60 36.60,357.60 36.80,357.60 37.00,357.60 37.20,357.60 37.40,357.60 37.60,357.60 37.80,357.60 38.00,357.60 38.20,357.60 38.40,357.60 38.60,357.60 38.80,357.60 39.00,357.60 39.20,357.60 39.40,357.60 39.60,357.60 39.80,357.60 40.00,357.60 40.20,357.60 40.40,357.60 40.60,357.60 40.80,357.60 41.00,357.60 41.20,357.60 41.40,357.60 41.60,357.60 41.80,357.60 42.00,357.60 42.20,357.60 42.40,357.60 42.60,357.60 42.80,357.60 43.00,357.60 43.20,357.60 43.40,357.60 43.60,357.60 43.80,357.60 44.00,357.60 44.20,357.60 44.40,357.60 44.60,357.60 44.80,357.60 45.00,357.60 45.20,357.60 45.40,357.60 45.60,357.60 45.80,357.60 46.00,357.60 46.20,357.60 46.40,357.60 46.60,357.60 46.80,357.60 47.00,357.60 47.20,357.60 47.40,357.60 47.60,357.60 47.80,357.60 48.00,357.60 48.20,357.60 48.40,357.60 48.60,357.60 48.80,357.60 49.00,357.60 49.20,357.60 49.40,357.60 49.60,357.60 49.80,357.60 50.00,357.60 50.20,357.60 50.40,357.60 50.60,357.60 50.80,357.60 51.00,357.60 51.20,357.60 51.40,357.60 51.60,357.60 51.80,357.60 52.00,357.60 52.20,357.60 52.40,357.60 52.60,357.60 52.80,357.60 53.00,357.60 53.20,357.60 53.40,357.60 53.60,357.60 53.80,357.60 54.00,357.60 54.20,357.60 54.40,357.60 54.60,357.60 54.80,357.60 55.00,357.60 55.20,357.60 55.40,357.60 55.60,357.60 55.80,357.60 56.00,357.60 56.20,357.60 56.40,357.60 56.60,357.60 56.80,357.60 57.00,357.60 57.20,357.60 57.40,357.60 57.60,357.60 57.80,357.60 58.00,357.60 58.20,357.60 58.40,357.60 58.60,357.60 58.80,357.60 59.00,357.60 59.20,357.60 59.40,357.60 59.60,357.60 59.80,357.60 60.00,357.60 60.20,357.60 60.40,357.60 60.60,357.60 60.80,357.60 61.00,357.60 61.20,357.60 61.40,357.60 61.60,357.59 61.80,357.59 62.00,357.58 62.20,357.57 62.40,357.56 62.60,357.54 62.80,357.51 63.00,357.47 63.20,357.43 63.40,357.36 63.60,357.28 63.80,357.19 64.00,357.08 64.20,356.96 64.40,356.83 64.60,356.70 64.80,356.57 65.00,356.45 65.20,356.34 65.40,356.26 65.60,356.20 65.80,356.17 66.00,356.17 66.20,356.18 66.40,356.20 66.60,356.19 66.80,356.14 67.00,356.00 67.20,355.72 67.40,355.24 67.60,354.49 67.80,353.39 68.00,351.86 68.20,349.82 68.40,347.21 68.60,343.99 68.80,340.19 69.00,335.87 69.20,331.15 69.40,326.22 69.60,321.34 69.80,316.78 70.00,312.83 70.20,309.79 70.40,307.86 70.60,307.20 70.80,307.86 71.00,309.79 71.20,312.84 71.40,316.79 71.60,321.35 71.80,326.25 72.00,331.19 72.20,335.93 72.40,340.28 72.60,344.12 72.80,347.38 73.00,350.05 73.20,352.17 73.40,353.80 73.60,355.01 73.80,355.88 74.00,356.48 74.20,356.90 74.40,357.17 74.60,357.34 74.80,357.45 75.00,357.51 75.20,357.55 75.40,357.57 75.60,357.59 75.80,357.59 76.00,357.60 76.20,357.60 76.40,357.60 76.60,357.60 76.80,357.60 77.00,357.60 77.20,357.60 77.40,357.60 77.60,357.60 77.80,357.60 78.00,357.60 78.20,357.60 78.40,357.60 78.60,357.60 78.80,357.60 79.00,357.60 79.20,357.60 79.40,357.60 79.60,357.60 79.80,357.60 80.00,357.60 80.20,357.60 80.40,357.60 80.60,357.60 80.80,357.60 81.00,357.60 81.20,357.60 81.40,357.60 81.60,357.60 81.80,357.60 82.00,357.60 82.20,357.60 82.40,357.60 82.60,357.60 82.80,357.60 83.00,357.60 83.20,357.60 83.40,357.60 83.60,357.60 83.80,357.60 84.00,357.60 84.20,357.60 84.40,357.60 84.60,357.60 84.80,357.60" fill="none" stroke="#666666" stroke-width="0.9" stroke-linejoin="round"/>
<line x1="99.40" y1="357.60" x2="182.00" y2="357.60" stroke="#707070" stroke-width="1.0"/>
<polyline points="99.40,357.57 99.60,357.55 99.80,357.51 100.00,357.44 100.20,357.34 100.40,357.18 100.60,356.95 100.80,356.62 101.00,356.17 101.20,355.58 101.40,354.85 101.60,353.96 101.80,352.95 102.00,351.84 102.20,350.70 102.40,349.60 102.60,348.63 102.80,347.86 103.00,347.37 103.20,347.20 103.40,347.37 103.60,347.86 103.80,348.63 104.00,349.60 104.20,350.70 104.40,351.84 104.60,352.95 104.80,353.96 105.00,354.85 105.20,355.58 105.40,356.17 105.60,356.62 105.80,356.95 106.00,357.18 106.20,357.34 106.40,357.44 106.60,357.51 106.80,357.55 107.00,357.57 107.20,357.59 107.40,357.59 107.60,357.60 107.80,357.60 108.00,357.60 108.20,357.60 108.40,357.60 108.60,357.60 108.80,357.60 109.00,357.60 109.20,357.60 109.40,357.60 109.60,357.60 109.80,357.60 110.00,357.59 110.20,357.59 110.40,357.58 110.60,357.57 110.80,357.54 111.00,357.50 111.20,357.44 111.40,357.35 111.60,357.21 111.80,357.01 112.00,356.72 112.20,356.32 112.40,355.76 112.60,355.03 112.80,354.08 113.00,352.89 113.20,351.43 113.40,349.68 113.60,347.66 113.80,345.38 114.00,342.91 114.20,340.32 114.40,337.70 114.60,335.18 114.80,332.88 115.00,330.92 115.20,329.42 115.40,328.46 115.60,328.12 115.80,328.40 116.00,329.29 116.20,330.72 116.40,332.62 116.60,334.85 116.80,337.30 117.00,339.84 117.20,342.35 117.40,344.73 117.60,346.91 117.80,348.84 118.00,350.49 118.20,351.85 118.40,352.94 118.60,353.78 118.80,354.41 119.00,354.85 119.20,355.13 119.40,355.29 119.60,355.34 119.80,355.28 120.00,355.10 120.20,354.80 120.40,354.39 120.60,353.92 120.80,353.44 121.00,353.04 121.20,352.82 121.40,352.82 121.60,353.04 121.80,353.43 122.00,353.91 122.20,354.39 122.40,354.79 122.60,355.10 122.80,355.30 123.00,355.39 123.20,355.40 123.40,355.32 123.60,355.16 123.80,354.89 124.00,354.50 124.20,353.96 124.40,353.25 124.60,352.33 124.80,351.16 125.00,349.74 125.20,348.02 125.40,346.00 125.60,343.68 125.80,341.07 126.00,338.20 126.20,335.12 126.40,331.88 126.60,328.56 126.80,325.28 127.00,322.12 127.20,319.20 127.40,316.63 127.60,314.51 127.80,312.93 128.00,311.96 128.20,311.64 128.40,311.99 128.60,312.98 128.80,314.59 129.00,316.73 129.20,319.33 129.40,322.28 129.60,325.48 129.80,328.81 130.00,332.17 130.20,335.46 130.40,338.60 130.60,341.53 130.80,344.21 131.00,346.60 131.20,348.70 131.40,350.50 131.60,352.02 131.80,353.28 132.00,354.30 132.20,355.12 132.40,355.76 132.60,356.25 132.80,356.63 133.00,356.91 133.20,357.12 133.40,357.27 133.60,357.37 133.80,357.45 134.00,357.50 134.20,357.54 134.40,357.56 134.60,357.57 134.80,357.58 135.00,357.59 135.20,357.59 135.40,357.60 135.60,357.60 135.80,357.60 136.00,357.60 136.20,357.60 136.40,357.60 136.60,357.60 136.80,357.60 137.00,357.60 137.20,357.60 137.40,357.59 137.60,357.59 137.80,357.58 138.00,357.56 138.20,357.54 138.40,357.50 138.60,357.43 138.80,357.34 139.00,357.21 139.20,357.03 139.40,356.77 139.60,356.42 139.80,355.98 140.00,355.41 140.20,354.71 140.40,353.87 140.60,352.91 140.80,351.82 141.00,350.65 141.20,349.43 141.40,348.22 141.60,347.07 141.80,346.05 142.00,345.23 142.20,344.64 142.40,344.34 142.60,344.34 142.80,344.64 143.00,345.23 143.20,346.05 143.40,347.07 143.60,348.22 143.80,349.43 144.00,350.65 144.20,351.82 144.40,352.91 144.60,353.87 144.80,354.71 145.00,355.41 145.20,355.98 145.40,356.42 145.60,356.77 145.80,357.03 146.00,357.21 146.20,357.34 146.40,357.43 146.60,357.50 146.80,357.54 147.00,357.56 147.20,357.58 147.40,357.59 147.60,357.59 147.80,357.60 148.00,357.60 148.20,357.60 148.40,357.60 148.60,357.60 148.80,357.60 149.00,357.60 149.20,357.60 149.40,357.60 149.60,357.60 149.80,357.60 150.00,357.59 150.20,357.59 150.40,357.58 150.60,357.57 150.80,357.55 151.00,357.51 151.20,357.46 151.40,357.39 151.60,357.29 151.80,357.14 152.00,356.93 152.20,356.65 152.40,356.27 152.60,355.78 152.80,355.15 153.00,354.35 153.20,353.38 153.40,352.21 153.60,350.84 153.80,349.27 154.00,347.53 154.20,345.64 154.40,343.65 154.60,341.62 154.80,339.63 155.00,337.74 155.20,336.06 155.40,334.65 155.60,333.59 155.80,332.92 156.00,332.70 156.20,332.92 156.40,333.59 156.60,334.65 156.80,336.06 157.00,337.74 157.20,339.62 157.40,341.62 157.60,343.65 157.80,345.64 158.00,347.52 158.20,349.26 158.40,350.82 158.60,352.18 158.80,353.33 159.00,354.28 159.20,355.04 159.40,355.63 159.60,356.06 159.80,356.36 160.00,356.54 160.20,356.63 160.40,356.63 160.60,356.57 160.80,356.46 161.00,356.32 161.20,356.17 161.40,356.01 161.60,355.86 161.80,355.74 162.00,355.65 162.20,355.60 162.40,355.60 162.60,355.65 162.80,355.74 163.00,355.87 163.20,356.02 163.40,356.19 163.60,356.36 163.80,356.52 164.00,356.66 164.20,356.76 164.40,356.82 164.60,356.82 164.80,356.75 165.00,356.59 165.20,356.34 165.40,355.98 165.60,355.49 165.80,354.84 166.00,354.02 166.20,353.00 166.40,351.78 166.60,350.34 166.80,348.67 167.00,346.78 167.20,344.69 167.40,342.43 167.60,340.05 167.80,337.60 168.00,335.16 168.20,332.80 168.40,330.61 168.60,328.68 168.80,327.08 169.00,325.89 169.20,325.15 169.40,324.90 169.60,325.15 169.80,325.89 170.00,327.08 170.20,328.68 170.40,330.61 170.60,332.80 170.80,335.16 171.00,337.60 171.20,340.05 171.40,342.43 171.60,344.69 171.80,346.78 172.00,348.67 172.20,350.34 172.40,351.79 172.60,353.02 172.80,354.05 173.00,354.88 173.20,355.56 173.40,356.09 173.60,356.49 173.80,356.81 174.00,357.04 174.20,357.21 174.40,357.33 174.60,357.42 174.80,357.48 175.00,357.52 175.20,357.55 175.40,357.57 175.60,357.58 175.80,357.59 176.00,357.59 176.20,357.60 176.40,357.60 176.60,357.60 176.80,357.60 177.00,357.60 177.20,357.60 177.40,357.60 177.60,357.60 177.80,357.60 178.00,357.60 178.20,357.60 178.40,357.60 178.60,357.60 178.80,357.60 179.00,357.60 179.20,357.60 179.40,357.60 179.60,357.60 179.80,357.60 180.00,357.60 180.20,357.60 180.40,357.60 180.60,357.60 180.80,357.60 181.00,357.60 181.20,357.60 181.40,357.60 181.60,357.60 181.80,357.60 182.00,357.60" fill="none" stroke="#666666" stroke-width="0.9" stroke-linejoin="round"/>
<line x1="196.20" y1="357.50" x2="252.40" y2="357.50" stroke="#707070" stroke-width="1.0"/>
<polyline points="196.20,357.50 196.40,357.50 196.60,357.50 196.80,357.50 197.00,357.50 197.20,357.50 197.40,357.50 197.60,357.50 197.80,357.50 198.00,357.50 198.20,357.50 198.40,357.50 198.60,357.50 198.80,357.50 199.00,357.50 199.20,357.50 199.40,357.50 199.60,357.50 199.80,357.50 200.00,357.50 200.20,357.50 200.40,357.50 200.60,357.50 200.80,357.50 201.00,357.50 201.20,357.50 201.40,357.50 201.60,357.50 201.80,357.49 202.00,357.48 202.20,357.46 202.40,357.43 202.60,357.38 202.80,357.29 203.00,357.15 203.20,356.95 203.40,356.66 203.60,356.27 203.80,355.76 204.00,355.13 204.20,354.40 204.40,353.59 204.60,352.76 204.80,351.97 205.00,351.29 205.20,350.80 205.40,350.53 205.60,350.53 205.80,350.80 206.00,351.29 206.20,351.97 206.40,352.76 206.60,353.59 206.80,354.40 207.00,355.13 207.20,355.76 207.40,356.27 207.60,356.66 207.80,356.95 208.00,357.15 208.20,357.29 208.40,357.38 208.60,357.43 208.80,357.46 209.00,357.48 209.20,357.49 209.40,357.50 209.60,357.50 209.80,357.50 210.00,357.50 210.20,357.50 210.40,357.50 210.60,357.50 210.80,357.50 211.00,357.50 211.20,357.50 211.40,357.50 211.60,357.50 211.80,357.50 212.00,357.50 212.20,357.50 212.40,357.49 212.60,357.49 212.80,357.48 213.00,357.46 213.20,357.44 213.40,357.40 213.60,357.33 213.80,357.24 214.00,357.09 214.20,356.88 214.40,356.58 214.60,356.17 214.80,355.62 215.00,354.90 215.20,353.99 215.40,352.87 215.60,351.53 215.80,349.98 216.00,348.25 216.20,346.37 216.40,344.42 216.60,342.48 216.80,340.64 217.00,339.01 217.20,337.68 217.40,336.75 217.60,336.26 217.80,336.26 218.00,336.75 218.20,337.68 218.40,339.01 218.60,340.64 218.80,342.48 219.00,344.42 219.20,346.37 219.40,348.24 219.60,349.98 219.80,351.52 220.00,352.84 220.20,353.94 220.40,354.81 220.60,355.46 220.80,355.91 221.00,356.17 221.20,356.26 221.40,356.20 221.60,356.01 221.80,355.71 222.00,355.35 222.20,354.96 222.40,354.58 222.60,354.27 222.80,354.05 223.00,353.91 223.20,353.86 223.40,353.84 223.60,353.80 223.80,353.66 224.00,353.34 224.20,352.77 224.40,351.88 224.60,350.62 224.80,348.94 225.00,346.83 225.20,344.28 225.40,341.33 225.60,338.00 225.80,334.37 226.00,330.54 226.20,326.63 226.40,322.78 226.60,319.14 226.80,315.89 227.00,313.16 227.20,311.11 227.40,309.83 227.60,309.40 227.80,309.83 228.00,311.10 228.20,313.15 228.40,315.86 228.60,319.10 228.80,322.71 229.00,326.52 229.20,330.37 229.40,334.11 229.60,337.61 229.80,340.79 230.00,343.56 230.20,345.92 230.40,347.84 230.60,349.37 230.80,350.56 231.00,351.46 231.20,352.16 231.40,352.73 231.60,353.21 231.80,353.67 232.00,354.12 232.20,354.58 232.40,355.03 232.60,355.48 232.80,355.89 233.00,356.26 233.20,356.57 233.40,356.83 233.60,357.02 233.80,357.15 234.00,357.23 234.20,357.26 234.40,357.25 234.60,357.20 234.80,357.09 235.00,356.93 235.20,356.70 235.40,356.40 235.60,355.99 235.80,355.46 236.00,354.80 236.20,353.97 236.40,352.96 236.60,351.76 236.80,350.35 237.00,348.75 237.20,346.96 237.40,345.00 237.60,342.92 237.80,340.77 238.00,338.61 238.20,336.51 238.40,334.55 238.60,332.82 238.80,331.38 239.00,330.30 239.20,329.63 239.40,329.40 239.60,329.63 239.80,330.30 240.00,331.38 240.20,332.82 240.40,334.55 240.60,336.51 240.80,338.61 241.00,340.77 241.20,342.92 241.40,345.00 241.60,346.96 241.80,348.75 242.00,350.35 242.20,351.76 242.40,352.96 242.60,353.97 242.80,354.80 243.00,355.46 243.20,355.99 243.40,356.40 243.60,356.71 243.80,356.94 244.00,357.11 244.20,357.24 244.40,357.32 244.60,357.38 244.80,357.42 245.00,357.45 245.20,357.47 245.40,357.48 245.60,357.49 245.80,357.49 246.00,357.50 246.20,357.50 246.40,357.50 246.60,357.50 246.80,357.50 247.00,357.50 247.20,357.50 247.40,357.50 247.60,357.50 247.80,357.50 248.00,357.50 248.20,357.50 248.40,357.50 248.60,357.50 248.80,357.50 249.00,357.50 249.20,357.50 249.40,357.50 249.60,357.50 249.80,357.50 250.00,357.50 250.20,357.50 250.40,357.50 250.60,357.50 250.80,357.50 251.00,357.50 251.20,357.50 251.40,357.50 251.60,357.50 251.80,357.50 252.00,357.50 252.20,357.50 252.40,357.50" fill="none" stroke="#666666" stroke-width="0.9" stroke-linejoin="round"/>
<line x1="19.60" y1="423.40" x2="84.80" y2="423.40" stroke="#707070" stroke-width="1.0"/>
<polyline points="19.60,423.40 19.80,423.40 20.00,423.40 20.20,423.40 20.40,423.40 20.60,423.40 20.80,423.40 21.00,423.40 21.20,423.40 21.40,423.40 21.60,423.40 21.80,423.40 22.00,423.40 22.20,423.40 22.40,423.40 22.60,423.40 22.80,423.40 23.00,423.40 23.20,423.40 23.40,423.40 23.60,423.40 23.80,423.40 24.00,423.40 24.20,423.40 24.40,423.40 24.60,423.40 24.80,423.40 25.00,423.40 25.20,423.40 25.40,423.40 25.60,423.40 25.80,423.39 26.00,423.39 26.20,423.38 26.40,423.38 26.60,423.36 26.80,423.34 27.00,423.32 27.20,423.28 27.40,423.24 27.60,423.18 27.80,423.11 28.00,423.02 28.20,422.92 28.40,422.81 28.60,422.69 28.80,422.57 29.00,422.44 29.20,422.33 29.40,422.24 29.60,422.16 29.80,422.12 30.00,422.10 30.20,422.12 30.40,422.16 30.60,422.23 30.80,422.33 31.00,422.44 31.20,422.55 31.40,422.66 31.60,422.76 31.80,422.83 32.00,422.87 32.20,422.85 32.40,422.75 32.60,422.56 32.80,422.22 33.00,421.71 33.20,420.95 33.40,419.90 33.60,418.49 33.80,416.65 34.00,414.34 34.20,411.52 34.40,408.20 34.60,404.43 34.80,400.30 35.00,395.95 35.20,391.58 35.40,387.40 35.60,383.67 35.80,380.62 36.00,378.46 36.20,377.34 36.40,377.34 36.60,378.46 36.80,380.62 37.00,383.67 37.20,387.40 37.40,391.57 37.60,395.95 37.80,400.30 38.00,404.43 38.20,408.20 38.40,411.51 38.60,414.32 38.80,416.63 39.00,418.46 39.20,419.87 39.40,420.91 39.60,421.65 39.80,422.16 40.00,422.49 40.20,422.68 40.40,422.78 40.60,422.81 40.80,422.80 41.00,422.76 41.20,422.71 41.40,422.67 41.60,422.63 41.80,422.61 42.00,422.60 42.20,422.61 42.40,422.64 42.60,422.68 42.80,422.74 43.00,422.81 43.20,422.89 43.40,422.96 43.60,423.04 43.80,423.11 44.00,423.17 44.20,423.22 44.40,423.26 44.60,423.30 44.80,423.33 45.00,423.35 45.20,423.37 45.40,423.38 45.60,423.39 45.80,423.39 46.00,423.39 46.20,423.40 46.40,423.40 46.60,423.40 46.80,423.40 47.00,423.40 47.20,423.40 47.40,423.40 47.60,423.40 47.80,423.40 48.00,423.40 48.20,423.40 48.40,423.40 48.60,423.40 48.80,423.40 49.00,423.40 49.20,423.40 49.40,423.40 49.60,423.40 49.80,423.40 50.00,423.40 50.20,423.40 50.40,423.40 50.60,423.40 50.80,423.40 51.00,423.40 51.20,423.40 51.40,423.40 51.60,423.40 51.80,423.40 52.00,423.40 52.20,423.40 52.40,423.40 52.60,423.40 52.80,423.40 53.00,423.40 53.20,423.40 53.40,423.40 53.60,423.40 53.80,423.40 54.00,423.40 54.20,423.40 54.40,423.40 54.60,423.40 54.80,423.40 55.00,423.40 55.20,423.40 55.40,423.40 55.60,423.40 55.80,423.40 56.00,423.40 56.20,423.40 56.40,423.40 56.60,423.40 56.80,423.40 57.00,423.40 57.20,423.40 57.40,423.40 57.60,423.40 57.80,423.40 58.00,423.40 58.20,423.40 58.40,423.40 58.60,423.40 58.80,423.40 59.00,423.40 59.20,423.40 59.40,423.40 59.60,423.40 59.80,423.40 60.00,423.40 60.20,423.40 60.40,423.40 60.60,423.40 60.80,423.40 61.00,423.40 61.20,423.40 61.40,423.40 61.60,423.40 61.80,423.40 62.00,423.40 62.20,423.40 62.40,423.40 62.60,423.40 62.80,423.40 63.00,423.40 63.20,423.40 63.40,423.40 63.60,423.40 63.80,423.40 64.00,423.40 64.20,423.40 64.40,423.40 64.60,423.40 64.80,423.40 65.00,423.40 65.20,423.40 65.40,423.40 65.60,423.40 65.80,423.40 66.00,423.40 66.20,423.40 66.40,423.40 66.60,423.40 66.80,423.40 67.00,423.40 67.20,423.40 67.40,423.40 67.60,423.40 67.80,423.40 68.00,423.40 68.20,423.40 68.40,423.40 68.60,423.40 68.80,423.40 69.00,423.40 69.20,423.40 69.40,423.40 69.60,423.40 69.80,423.40 70.00,423.40 70.20,423.40 70.40,423.40 70.60,423.40 70.80,423.40 71.00,423.40 71.20,423.40 71.40,423.40 71.60,423.40 71.80,423.40 72.00,423.40 72.20,423.40 72.40,423.40 72.60,423.40 72.80,423.40 73.00,423.40 73.20,423.40 73.40,423.40 73.60,423.40 73.80,423.40 74.00,423.40 74.20,423.40 74.40,423.40 74.60,423.40 74.80,423.40 75.00,423.40 75.20,423.40 75.40,423.40 75.60,423.40 75.80,423.40 76.00,423.40 76.20,423.40 76.40,423.40 76.60,423.40 76.80,423.40 77.00,423.40 77.20,423.40 77.40,423.40 77.60,423.40 77.80,423.40 78.00,423.40 78.20,423.40 78.40,423.40 78.60,423.40 78.80,423.40 79.00,423.40 79.20,423.40 79.40,423.40 79.60,423.40 79.80,423.40 80.00,423.40 80.20,423.40 80.40,423.40 80.60,423.40 80.80,423.40 81.00,423.40 81.20,423.40 81.40,423.40 81.60,423.40 81.80,423.40 82.00,423.40 82.20,423.40 82.40,423.40 82.60,423.40 82.80,423.40 83.00,423.40 83.20,423.40 83.40,423.40 83.60,423.40 83.80,423.40 84.00,423.40 84.20,423.40 84.40,423.40 84.60,423.40 84.80,423.40" fill="none" stroke="#666666" stroke-width="0.9" stroke-linejoin="round"/>
<line x1="99.50" y1="422.85" x2="182.70" y2="422.85" stroke="#707070" stroke-width="1.0"/>
<polyline points="99.50,422.79 99.70,422.75 99.90,422.68 100.10,422.57 100.30,422.40 100.50,422.15 100.70,421.79 100.90,421.30 101.10,420.64 101.30,419.81 101.50,418.80 101.70,417.60 101.90,416.25 102.10,414.81 102.30,413.35 102.50,411.95 102.70,410.73 102.90,409.77 103.10,409.16 103.30,408.95 103.50,409.16 103.70,409.77 103.90,410.73 104.10,411.95 104.30,413.35 104.50,414.81 104.70,416.25 104.90,417.60 105.10,418.80 105.30,419.81 105.50,420.64 105.70,421.30 105.90,421.79 106.10,422.15 106.30,422.40 106.50,422.57 106.70,422.68 106.90,422.75 107.10,422.79 107.30,422.82 107.50,422.83 107.70,422.84 107.90,422.85 108.10,422.85 108.30,422.85 108.50,422.85 108.70,422.85 108.90,422.85 109.10,422.84 109.30,422.84 109.50,422.84 109.70,422.83 109.90,422.81 110.10,422.79 110.30,422.75 110.50,422.70 110.70,422.62 110.90,422.50 111.10,422.34 111.30,422.11 111.50,421.79 111.70,421.37 111.90,420.82 112.10,420.12 112.30,419.23 112.50,418.13 112.70,416.79 112.90,415.22 113.10,413.40 113.30,411.35 113.50,409.08 113.70,406.65 113.90,404.11 114.10,401.55 114.30,399.04 114.50,396.69 114.70,394.60 114.90,392.85 115.10,391.54 115.30,390.73 115.50,390.45 115.70,390.73 115.90,391.54 116.10,392.85 116.30,394.59 116.50,396.69 116.70,399.04 116.90,401.54 117.10,404.11 117.30,406.64 117.50,409.06 117.70,411.32 117.90,413.36 118.10,415.16 118.30,416.71 118.50,418.01 118.70,419.07 118.90,419.90 119.10,420.54 119.30,421.00 119.50,421.32 119.70,421.51 119.90,421.60 120.10,421.61 120.30,421.56 120.50,421.46 120.70,421.34 120.90,421.20 121.10,421.05 121.30,420.92 121.50,420.80 121.70,420.71 121.90,420.65 122.10,420.62 122.30,420.62 122.50,420.66 122.70,420.71 122.90,420.78 123.10,420.86 123.30,420.92 123.50,420.94 123.70,420.92 123.90,420.81 124.10,420.61 124.30,420.29 124.50,419.81 124.70,419.15 124.90,418.28 125.10,417.18 125.30,415.82 125.50,414.18 125.70,412.25 125.90,410.04 126.10,407.56 126.30,404.82 126.50,401.87 126.70,398.76 126.90,395.57 127.10,392.37 127.30,389.27 127.50,386.36 127.70,383.74 127.90,381.51 128.10,379.76 128.30,378.55 128.50,377.93 128.70,377.93 128.90,378.55 129.10,379.76 129.30,381.51 129.50,383.74 129.70,386.36 129.90,389.27 130.10,392.38 130.30,395.58 130.50,398.78 130.70,401.89 130.90,404.86 131.10,407.61 131.30,410.13 131.50,412.37 131.70,414.34 131.90,416.03 132.10,417.46 132.30,418.65 132.50,419.62 132.70,420.41 132.90,421.02 133.10,421.50 133.30,421.87 133.50,422.15 133.70,422.35 133.90,422.50 134.10,422.61 134.30,422.69 134.50,422.74 134.70,422.78 134.90,422.80 135.10,422.82 135.30,422.83 135.50,422.84 135.70,422.84 135.90,422.85 136.10,422.85 136.30,422.85 136.50,422.85 136.70,422.85 136.90,422.85 137.10,422.85 137.30,422.85 137.50,422.85 137.70,422.85 137.90,422.85 138.10,422.85 138.30,422.85 138.50,422.85 138.70,422.85 138.90,422.85 139.10,422.85 139.30,422.85 139.50,422.85 139.70,422.85 139.90,422.85 140.10,422.85 140.30,422.85 140.50,422.85 140.70,422.85 140.90,422.85 141.10,422.85 141.30,422.85 141.50,422.85 141.70,422.85 141.90,422.85 142.10,422.85 142.30,422.85 142.50,422.85 142.70,422.85 142.90,422.85 143.10,422.85 143.30,422.85 143.50,422.85 143.70,422.85 143.90,422.85 144.10,422.85 144.30,422.85 144.50,422.85 144.70,422.85 144.90,422.85 145.10,422.85 145.30,422.85 145.50,422.85 145.70,422.85 145.90,422.85 146.10,422.85 146.30,422.85 146.50,422.85 146.70,422.85 146.90,422.85 147.10,422.85 147.30,422.85 147.50,422.85 147.70,422.85 147.90,422.85 148.10,422.85 148.30,422.85 148.50,422.85 148.70,422.85 148.90,422.85 149.10,422.85 149.30,422.85 149.50,422.85 149.70,422.85 149.90,422.85 150.10,422.85 150.30,422.85 150.50,422.85 150.70,422.85 150.90,422.85 151.10,422.85 151.30,422.85 151.50,422.85 151.70,422.85 151.90,422.85 152.10,422.85 152.30,422.85 152.50,422.85 152.70,422.85 152.90,422.85 153.10,422.85 153.30,422.85 153.50,422.85 153.70,422.85 153.90,422.85 154.10,422.85 154.30,422.85 154.50,422.85 154.70,422.85 154.90,422.85 155.10,422.85 155.30,422.85 155.50,422.85 155.70,422.85 155.90,422.85 156.10,422.85 156.30,422.85 156.50,422.85 156.70,422.85 156.90,422.85 157.10,422.85 157.30,422.85 157.50,422.85 157.70,422.85 157.90,422.85 158.10,422.85 158.30,422.85 158.50,422.85 158.70,422.85 158.90,422.85 159.10,422.85 159.30,422.85 159.50,422.85 159.70,422.85 159.90,422.85 160.10,422.85 160.30,422.85 160.50,422.85 160.70,422.85 160.90,422.85 161.10,422.85 161.30,422.85 161.50,422.85 161.70,422.85 161.90,422.85 162.10,422.85 162.30,422.85 162.50,422.85 162.70,422.85 162.90,422.85 163.10,422.85 163.30,422.85 163.50,422.85 163.70,422.85 163.90,422.85 164.10,422.85 164.30,422.85 164.50,422.85 164.70,422.85 164.90,422.85 165.10,422.85 165.30,422.85 165.50,422.85 165.70,422.85 165.90,422.85 166.10,422.85 166.30,422.85 166.50,422.85 166.70,422.85 166.90,422.85 167.10,422.85 167.30,422.85 167.50,422.85 167.70,422.85 167.90,422.85 168.10,422.85 168.30,422.85 168.50,422.85 168.70,422.85 168.90,422.85 169.10,422.85 169.30,422.85 169.50,422.85 169.70,422.85 169.90,422.85 170.10,422.85 170.30,422.85 170.50,422.85 170.70,422.85 170.90,422.85 171.10,422.85 171.30,422.85 171.50,422.85 171.70,422.85 171.90,422.85 172.10,422.85 172.30,422.85 172.50,422.85 172.70,422.85 172.90,422.85 173.10,422.85 173.30,422.85 173.50,422.85 173.70,422.85 173.90,422.85 174.10,422.85 174.30,422.85 174.50,422.85 174.70,422.85 174.90,422.85 175.10,422.85 175.30,422.85 175.50,422.85 175.70,422.85 175.90,422.85 176.10,422.85 176.30,422.85 176.50,422.85 176.70,422.85 176.90,422.85 177.10,422.85 177.30,422.85 177.50,422.85 177.70,422.85 177.90,422.85 178.10,422.85 178.30,422.85 178.50,422.85 178.70,422.85 178.90,422.85 179.10,422.85 179.30,422.85 179.50,422.85 179.70,422.85 179.90,422.85 180.10,422.85 180.30,422.85 180.50,422.85 180.70,422.85 180.90,422.85 181.10,422.85 181.30,422.85 181.50,422.85 181.70,422.85 181.90,422.85 182.10,422.85 182.30,422.85 182.50,422.85 182.70,422.85" fill="none" stroke="#666666" stroke-width="0.9" stroke-linejoin="round"/>
<line x1="196.30" y1="422.80" x2="252.80" y2="422.80" stroke="#707070" stroke-width="1.0"/>
<polyline points="196.30,422.80 196.50,422.80 196.70,422.80 196.90,422.80 197.10,422.80 197.30,422.80 197.50,422.80 197.70,422.80 197.90,422.80 198.10,422.80 198.30,422.80 198.50,422.80 198.70,422.80 198.90,422.80 199.10,422.80 199.30,422.80 199.50,422.80 199.70,422.80 199.90,422.80 200.10,422.80 200.30,422.80 200.50,422.80 200.70,422.80 200.90,422.80 201.10,422.80 201.30,422.80 201.50,422.80 201.70,422.80 201.90,422.80 202.10,422.80 202.30,422.79 202.50,422.79 202.70,422.77 202.90,422.75 203.10,422.70 203.30,422.63 203.50,422.52 203.70,422.35 203.90,422.10 204.10,421.75 204.30,421.27 204.50,420.66 204.70,419.91 204.90,419.03 205.10,418.05 205.30,417.02 205.50,416.02 205.70,415.13 205.90,414.42 206.10,413.96 206.30,413.80 206.50,413.96 206.70,414.42 206.90,415.13 207.10,416.02 207.30,417.02 207.50,418.05 207.70,419.03 207.90,419.91 208.10,420.66 208.30,421.27 208.50,421.75 208.70,422.10 208.90,422.35 209.10,422.52 209.30,422.63 209.50,422.70 209.70,422.75 209.90,422.77 210.10,422.78 210.30,422.79 210.50,422.79 210.70,422.79 210.90,422.78 211.10,422.76 211.30,422.73 211.50,422.69 211.70,422.63 211.90,422.53 212.10,422.38 212.30,422.16 212.50,421.86 212.70,421.44 212.90,420.87 213.10,420.13 213.30,419.19 213.50,418.01 213.70,416.59 213.90,414.92 214.10,413.02 214.30,410.91 214.50,408.66 214.70,406.35 214.90,404.06 215.10,401.92 215.30,400.03 215.50,398.50 215.70,397.43 215.90,396.87 216.10,396.87 216.30,397.43 216.50,398.50 216.70,400.03 216.90,401.92 217.10,404.06 217.30,406.35 217.50,408.66 217.70,410.91 217.90,413.02 218.10,414.92 218.30,416.59 218.50,418.01 218.70,419.19 218.90,420.13 219.10,420.86 219.30,421.41 219.50,421.80 219.70,422.05 219.90,422.18 220.10,422.19 220.30,422.08 220.50,421.87 220.70,421.55 220.90,421.16 221.10,420.72 221.30,420.29 221.50,419.92 221.70,419.68 221.90,419.58 222.10,419.66 222.30,419.90 222.50,420.24 222.70,420.64 222.90,421.03 223.10,421.36 223.30,421.58 223.50,421.65 223.70,421.57 223.90,421.31 224.10,420.85 224.30,420.17 224.50,419.24 224.70,418.03 224.90,416.49 225.10,414.61 225.30,412.34 225.50,409.68 225.70,406.65 225.90,403.27 226.10,399.60 226.30,395.74 226.50,391.81 226.70,387.93 226.90,384.28 227.10,381.01 227.30,378.28 227.50,376.22 227.70,374.94 227.90,374.50 228.10,374.94 228.30,376.22 228.50,378.28 228.70,381.01 228.90,384.28 229.10,387.93 229.30,391.81 229.50,395.74 229.70,399.60 229.90,403.27 230.10,406.65 230.30,409.68 230.50,412.34 230.70,414.60 230.90,416.49 231.10,418.02 231.30,419.23 231.50,420.15 231.70,420.83 231.90,421.30 232.10,421.58 232.30,421.71 232.50,421.71 232.70,421.62 232.90,421.45 233.10,421.24 233.30,421.03 233.50,420.84 233.70,420.72 233.90,420.69 234.10,420.74 234.30,420.88 234.50,421.09 234.70,421.34 234.90,421.62 235.10,421.88 235.30,422.12 235.50,422.32 235.70,422.47 235.90,422.59 236.10,422.67 236.30,422.72 236.50,422.76 236.70,422.78 236.90,422.79 237.10,422.79 237.30,422.80 237.50,422.80 237.70,422.80 237.90,422.80 238.10,422.80 238.30,422.80 238.50,422.80 238.70,422.80 238.90,422.80 239.10,422.80 239.30,422.80 239.50,422.80 239.70,422.80 239.90,422.80 240.10,422.80 240.30,422.80 240.50,422.80 240.70,422.80 240.90,422.80 241.10,422.80 241.30,422.80 241.50,422.80 241.70,422.80 241.90,422.80 242.10,422.80 242.30,422.80 242.50,422.80 242.70,422.80 242.90,422.80 243.10,422.80 243.30,422.80 243.50,422.80 243.70,422.80 243.90,422.80 244.10,422.80 244.30,422.80 244.50,422.80 244.70,422.80 244.90,422.80 245.10,422.80 245.30,422.80 245.50,422.80 245.70,422.80 245.90,422.80 246.10,422.80 246.30,422.80 246.50,422.80 246.70,422.80 246.90,422.80 247.10,422.80 247.30,422.80 247.50,422.80 247.70,422.80 247.90,422.80 248.10,422.80 248.30,422.80 248.50,422.80 248.70,422.80 248.90,422.80 249.10,422.80 249.30,422.80 249.50,422.80 249.70,422.80 249.90,422.80 250.10,422.80 250.30,422.80 250.50,422.80 250.70,422.80 250.90,422.80 251.10,422.80 251.30,422.80 251.50,422.80 251.70,422.80 251.90,422.80 252.10,422.80 252.30,422.80 252.50,422.80 252.70,422.80" fill="none" stroke="#666666" stroke-width="0.9" stroke-linejoin="round"/>
<line x1="169.6" y1="430.0" x2="169.6" y2="439.0" stroke="#000" stroke-width="1.5"/>
<polygon points="169.6,424.0 167.0,432.2 172.2,432.2" fill="#000"/>
<line x1="242.0" y1="430.0" x2="242.0" y2="439.0" stroke="#000" stroke-width="1.5"/>
<polygon points="242.0,424.0 239.4,432.2 244.6,432.2" fill="#000"/>
</svg>
</body></html>
